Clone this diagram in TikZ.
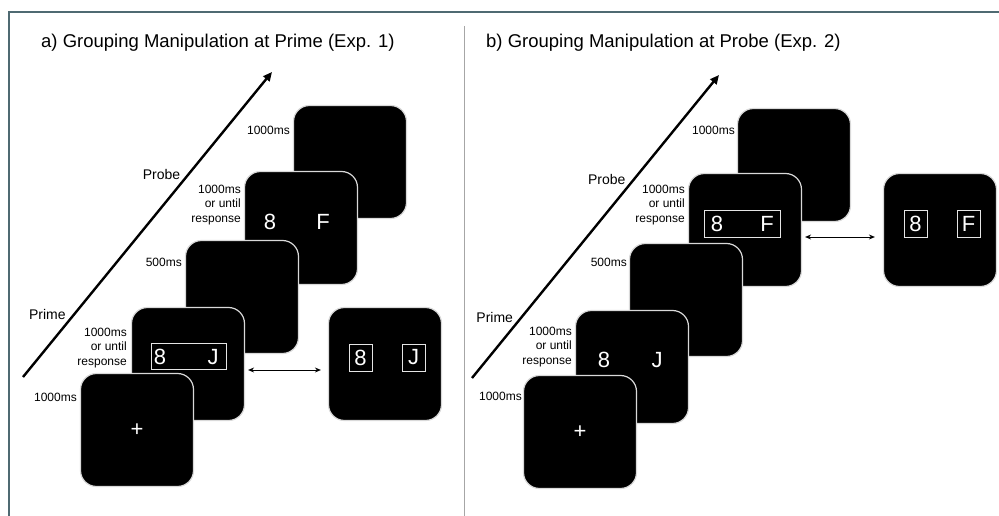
\documentclass[tikz,border=0pt]{standalone}
\usepackage{fontspec}
\setmainfont{Liberation Sans}
\usetikzlibrary{positioning,arrows.meta}

\definecolor{framegray}{HTML}{4F6A72}

\tikzset{
  screen/.style={fill=black, draw=white!85!black, line width=1.2pt, rounded corners=16pt,
    minimum width=113pt, minimum height=113pt, inner sep=0pt, text=white,
    font=\fontsize{22}{22}\selectfont},
  glyph/.style={text=white, font=\fontsize{22}{22}\selectfont, inner sep=0pt},
  framebox/.style={draw=white!90!black, line width=1pt, inner sep=0pt},
  timing/.style={font=\fontsize{12}{14.5}\selectfont, align=right, inner sep=0pt, anchor=east},
  phase/.style={font=\fontsize{14}{14}\selectfont, inner sep=1pt, anchor=south east},
  heading/.style={font=\fontsize{18.5}{18.5}\selectfont, anchor=west, inner sep=0pt},
  timeline/.style={line width=2.4pt, -{Triangle[length=9pt,width=8pt]}},
  swap/.style={line width=0.9pt, {Stealth[length=6pt,width=5pt]}-{Stealth[length=6pt,width=5pt]}},
}

\begin{document}
\begin{tikzpicture}[x=1pt, y=-1pt]
  \useasboundingbox (0,0) rectangle (999,516);
  \draw[framegray, line width=2pt] (9,516) -- (9,12) -- (1005,12);
  \draw[gray!70, line width=1pt] (464,26) -- (464,516);

  \node[heading] (titleA) at (41,43) {a) Grouping Manipulation at Prime (Exp. 1)};
  \node[heading] (titleB) at (486,43) {b) Grouping Manipulation at Probe (Exp. 2)};

  % prime grouped
  \coordinate (tlA0) at (23,377);
  \coordinate (tlA1) at (272,72);
  \draw[timeline] (tlA0) -- (tlA1)
    node[phase, pos=0.18] (primeA) {Prime}
    node[phase, pos=0.64] (probeA) {Probe};

  \node[screen] (finA) at (350,162) {};
  \node[timing] (finAt) at (290,130) {1000ms};

  \node[screen] (probeAs) at (301,228) {};
  \node[glyph] (probeA8) at (270,222) {8};
  \node[glyph] (probeAF) at (323,222) {F};
  \node[timing] (probeAt) at (241,205) {1000ms\\or until\\response};

  \node[screen] (blankA) at (242,297) {};
  \node[timing] (blankAt) at (182,262) {500ms};

  \node[screen] (primeAs) at (188,364) {};
  \node[framebox, minimum width=75pt, minimum height=26pt] (primeAbox) at (188.5,356) {};
  \node[glyph] (primeA8) at (160,357) {8};
  \node[glyph] (primeAJ) at (213,357) {J};
  \node[timing] (primeAt) at (127,348) {1000ms\\or until\\response};

  \node[screen] (fixA) at (137,430) {+};
  \node[timing] (fixAt) at (77,397) {1000ms};

  \node[screen] (cmpA) at (385,364) {};
  \node[framebox, glyph, minimum width=23pt, minimum height=27pt] (cmpA8) at (360.5,357.5) {8};
  \node[framebox, glyph, minimum width=23pt, minimum height=27pt] (cmpAJ) at (413.5,357.5) {J};
  \draw[swap] ([shift={(3,6)}]primeAs.east) -- ([shift={(-7,6)}]cmpA.west);

  % probe grouped
  \coordinate (tlB0) at (472,378);
  \coordinate (tlB1) at (719,75);
  \draw[timeline] (tlB0) -- (tlB1)
    node[phase, pos=0.175] (primeB) {Prime}
    node[phase, pos=0.63] (probeB) {Probe};

  \node[screen] (finB) at (794,165) {};
  \node[timing] (finBt) at (735,130) {1000ms};

  \node[screen] (probeBs) at (745,230) {};
  \node[framebox, minimum width=76pt, minimum height=27pt] (probeBbox) at (742,223.5) {};
  \node[glyph] (probeB8) at (717,224) {8};
  \node[glyph] (probeBF) at (767,224) {F};
  \node[timing] (probeBt) at (685,205) {1000ms\\or until\\response};

  \node[screen] (blankB) at (686,300) {};
  \node[timing] (blankBt) at (627,262) {500ms};

  \node[screen] (primeBs) at (632,367) {};
  \node[glyph] (primeB8) at (604,360) {8};
  \node[glyph] (primeBJ) at (657,360) {J};
  \node[timing] (primeBt) at (572,347) {1000ms\\or until\\response};

  \node[screen] (fixB) at (580,432) {+};
  \node[timing] (fixBt) at (522,396) {1000ms};

  \node[screen] (cmpB) at (940,230) {};
  \node[framebox, glyph, minimum width=23pt, minimum height=27pt] (cmpB8) at (915.5,223.5) {8};
  \node[framebox, glyph, minimum width=23pt, minimum height=27pt] (cmpBF) at (968.5,223.5) {F};
  \draw[swap] ([shift={(3,7)}]probeBs.east) -- ([shift={(-8,7)}]cmpB.west);
\end{tikzpicture}
\end{document}
